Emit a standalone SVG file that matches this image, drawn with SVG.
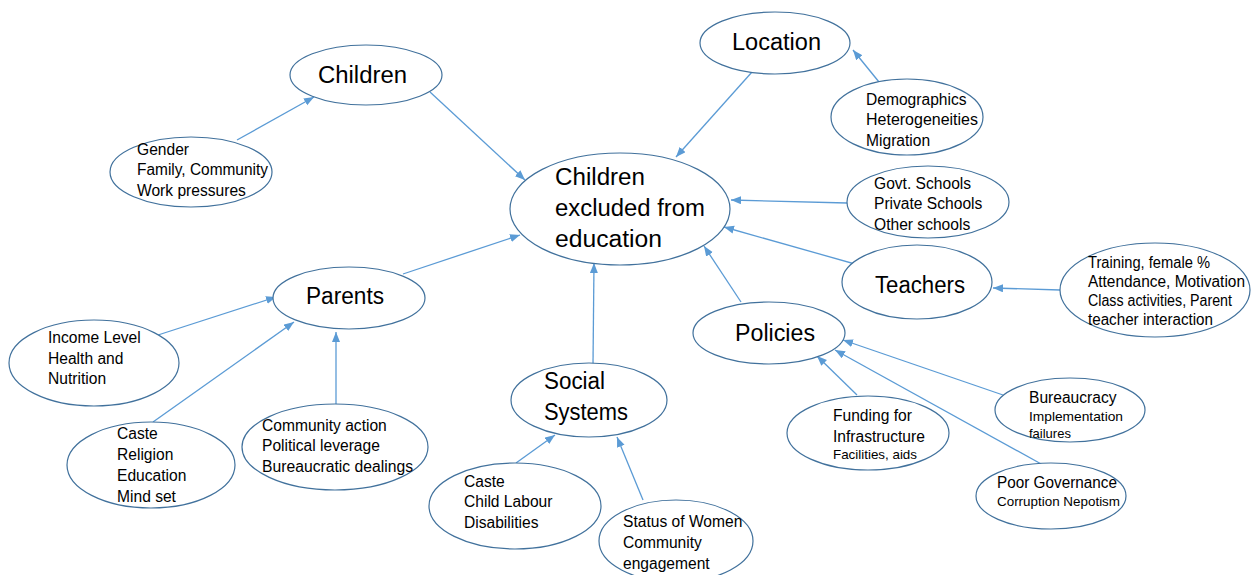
<svg xmlns="http://www.w3.org/2000/svg" width="1259" height="575" viewBox="0 0 1259 575">
  <defs>
    <marker id="arrow" markerUnits="userSpaceOnUse" markerWidth="11" markerHeight="9" refX="10" refY="4" orient="auto">
      <path d="M0,0 L10,4 L0,8 z" fill="#5b9bd5"/>
    </marker>
    <style>
      .bubble { fill: #ffffff; stroke: #41719c; stroke-width: 1.2; }
      .link { stroke: #5b9bd5; stroke-width: 1.3; fill: none; marker-end: url(#arrow); }
      text { font-family: "Liberation Sans", Arial, sans-serif; fill: #000000; }
      .big { font-size: 23px; }
      .txt { font-size: 15.6px; }
      .sm { font-size: 13px; }
    </style>
  </defs>
  <rect width="1259" height="575" fill="#ffffff"/>

  <!-- connectors -->
  <g id="connectors">
    <line class="link" x1="237" y1="140" x2="314" y2="97"/>
    <line class="link" x1="430" y1="92" x2="525" y2="180"/>
    <line class="link" x1="752" y1="72" x2="676" y2="157"/>
    <line class="link" x1="879" y1="82" x2="853" y2="50"/>
    <line class="link" x1="847" y1="203" x2="731" y2="200"/>
    <line class="link" x1="862" y1="266" x2="724" y2="227"/>
    <line class="link" x1="1060" y1="290" x2="993" y2="288"/>
    <line class="link" x1="741" y1="302" x2="704" y2="246"/>
    <line class="link" x1="857" y1="395" x2="817" y2="356"/>
    <line class="link" x1="1003" y1="395" x2="843" y2="340"/>
    <line class="link" x1="1043" y1="465" x2="835" y2="350"/>
    <line class="link" x1="593" y1="364" x2="594" y2="263"/>
    <line class="link" x1="516" y1="463" x2="555" y2="435"/>
    <line class="link" x1="643" y1="500" x2="617" y2="437"/>
    <line class="link" x1="403" y1="274" x2="520" y2="235"/>
    <line class="link" x1="158" y1="335" x2="276" y2="297"/>
    <line class="link" x1="153" y1="422" x2="294" y2="322"/>
    <line class="link" x1="336" y1="404" x2="336" y2="332"/>
  </g>

  <!-- central node -->
  <g id="excluded">
    <ellipse class="bubble" cx="620" cy="209" rx="110" ry="56"/>
    <text class="big" x="555" y="185" textLength="90" lengthAdjust="spacingAndGlyphs">Children</text>
    <text class="big" x="555" y="216" textLength="150" lengthAdjust="spacingAndGlyphs">excluded from</text>
    <text class="big" x="555" y="247" textLength="107" lengthAdjust="spacingAndGlyphs">education</text>
  </g>

  <g id="children">
    <ellipse class="bubble" cx="366" cy="75" rx="76" ry="30"/>
    <text class="big" x="318" y="83" textLength="89" lengthAdjust="spacingAndGlyphs">Children</text>
  </g>

  <g id="children-factors">
    <ellipse class="bubble" cx="191" cy="172" rx="81" ry="35"/>
    <text class="txt" x="137" y="155">Gender</text>
    <text class="txt" x="137" y="175" textLength="131" lengthAdjust="spacingAndGlyphs">Family, Community</text>
    <text class="txt" x="137" y="196">Work pressures</text>
  </g>

  <g id="location">
    <ellipse class="bubble" cx="775" cy="43" rx="75" ry="31"/>
    <text class="big" x="732" y="50" textLength="89" lengthAdjust="spacingAndGlyphs">Location</text>
  </g>

  <g id="location-factors">
    <ellipse class="bubble" cx="907" cy="117" rx="76" ry="38"/>
    <text class="txt" x="866" y="105">Demographics</text>
    <text class="txt" x="866" y="125" textLength="112" lengthAdjust="spacingAndGlyphs">Heterogeneities</text>
    <text class="txt" x="866" y="146">Migration</text>
  </g>

  <g id="schools">
    <ellipse class="bubble" cx="928" cy="202" rx="81" ry="36"/>
    <text class="txt" x="874" y="189">Govt.  Schools</text>
    <text class="txt" x="874" y="209">Private Schools</text>
    <text class="txt" x="874" y="230">Other schools</text>
  </g>

  <g id="teachers">
    <ellipse class="bubble" cx="917" cy="282" rx="75" ry="37"/>
    <text class="big" x="875" y="293" textLength="90" lengthAdjust="spacingAndGlyphs">Teachers</text>
  </g>

  <g id="teacher-factors">
    <ellipse class="bubble" cx="1155" cy="290" rx="95" ry="47"/>
    <text class="txt" x="1088" y="268" textLength="122" lengthAdjust="spacingAndGlyphs">Training, female %</text>
    <text class="txt" x="1088" y="287" textLength="157" lengthAdjust="spacingAndGlyphs">Attendance, Motivation</text>
    <text class="txt" x="1088" y="306" textLength="144" lengthAdjust="spacingAndGlyphs">Class activities, Parent</text>
    <text class="txt" x="1088" y="325" textLength="125" lengthAdjust="spacingAndGlyphs">teacher interaction</text>
  </g>

  <g id="policies">
    <ellipse class="bubble" cx="769" cy="333" rx="76" ry="31"/>
    <text class="big" x="735" y="341" textLength="80" lengthAdjust="spacingAndGlyphs">Policies</text>
  </g>

  <g id="funding">
    <ellipse class="bubble" cx="868" cy="433" rx="81" ry="37"/>
    <text class="txt" x="833" y="421">Funding for</text>
    <text class="txt" x="833" y="442">Infrastructure</text>
    <text class="sm" x="833" y="459" textLength="84" lengthAdjust="spacingAndGlyphs">Facilities, aids</text>
  </g>

  <g id="bureaucracy">
    <ellipse class="bubble" cx="1070" cy="410" rx="75" ry="32"/>
    <text class="txt" x="1029" y="403">Bureaucracy</text>
    <text class="sm" x="1029" y="421" textLength="94" lengthAdjust="spacingAndGlyphs">Implementation</text>
    <text class="sm" x="1029" y="438">failures</text>
  </g>

  <g id="governance">
    <ellipse class="bubble" cx="1051" cy="496" rx="75" ry="33"/>
    <text class="txt" x="997" y="488" textLength="120" lengthAdjust="spacingAndGlyphs">Poor Governance</text>
    <text class="sm" x="997" y="506" textLength="123" lengthAdjust="spacingAndGlyphs">Corruption Nepotism</text>
  </g>

  <g id="social-systems">
    <ellipse class="bubble" cx="589" cy="400" rx="78" ry="37"/>
    <text class="big" x="544" y="389" textLength="61" lengthAdjust="spacingAndGlyphs">Social</text>
    <text class="big" x="544" y="420" textLength="84" lengthAdjust="spacingAndGlyphs">Systems</text>
  </g>

  <g id="social-factors">
    <ellipse class="bubble" cx="515" cy="506" rx="86" ry="43"/>
    <text class="txt" x="464" y="487">Caste</text>
    <text class="txt" x="464" y="507">Child Labour</text>
    <text class="txt" x="464" y="528">Disabilities</text>
  </g>

  <g id="women-community">
    <ellipse class="bubble" cx="676" cy="541" rx="77" ry="41"/>
    <text class="txt" x="623" y="527">Status of Women</text>
    <text class="txt" x="623" y="548">Community</text>
    <text class="txt" x="623" y="569">engagement</text>
  </g>

  <g id="parents">
    <ellipse class="bubble" cx="349" cy="298" rx="76" ry="31"/>
    <text class="big" x="306" y="304" textLength="78" lengthAdjust="spacingAndGlyphs">Parents</text>
  </g>

  <g id="income">
    <ellipse class="bubble" cx="94" cy="363" rx="85" ry="43"/>
    <text class="txt" x="48" y="343">Income  Level</text>
    <text class="txt" x="48" y="364">Health and</text>
    <text class="txt" x="48" y="384">Nutrition</text>
  </g>

  <g id="caste-religion">
    <ellipse class="bubble" cx="151" cy="465" rx="84" ry="43"/>
    <text class="txt" x="117" y="439">Caste</text>
    <text class="txt" x="117" y="460">Religion</text>
    <text class="txt" x="117" y="481">Education</text>
    <text class="txt" x="117" y="502">Mind set</text>
  </g>

  <g id="community">
    <ellipse class="bubble" cx="335" cy="447" rx="93" ry="43"/>
    <text class="txt" x="262" y="431">Community  action</text>
    <text class="txt" x="262" y="451">Political leverage</text>
    <text class="txt" x="262" y="472" textLength="151" lengthAdjust="spacingAndGlyphs">Bureaucratic dealings</text>
  </g>
</svg>
